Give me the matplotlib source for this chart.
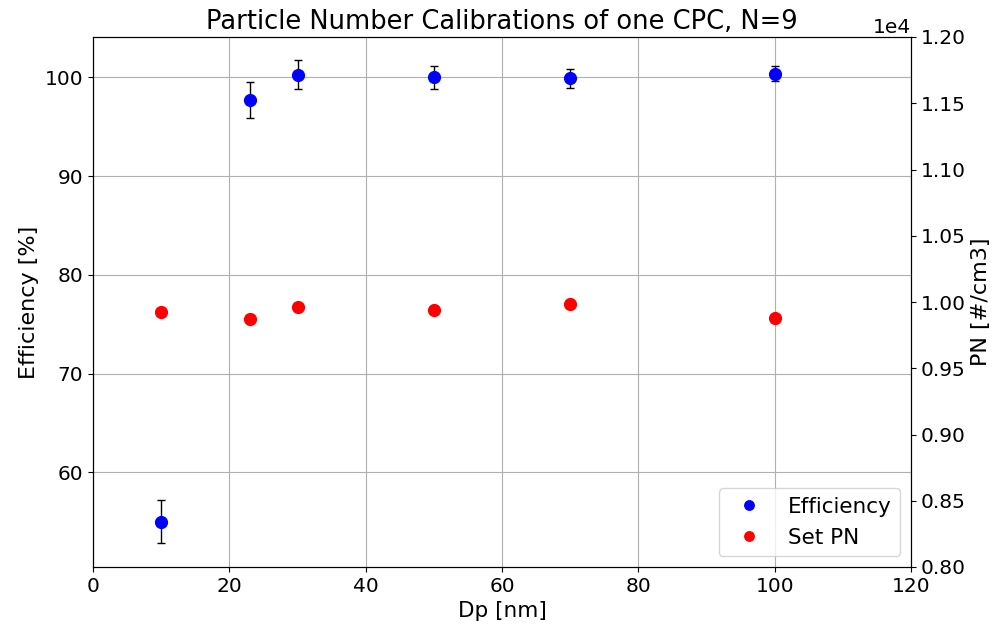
"""Calibrazione numero particelle di un CPC: efficienza e PN impostato."""

import matplotlib
matplotlib.use("Agg")
import matplotlib.pyplot as plt

# Dati
dp = [10, 23, 30, 50, 70, 100]
efficiency = [55.0, 97.7, 100.3, 100.0, 99.9, 100.4]
efficiency_err = [2.15, 1.85, 1.45, 1.15, 0.95, 0.8]
set_pn = [9922, 9873, 9962, 9937, 9987, 9880]

plt.rcParams["font.size"] = 14.5

fig, ax1 = plt.subplots(figsize=(9.96, 6.25), dpi=100)
fig.subplots_adjust(left=0.0934, right=0.9147, top=0.9408, bottom=0.0928)

# Efficienza con barre d'errore
ax1.errorbar(dp, efficiency, yerr=efficiency_err, fmt="o", color="blue",
             ecolor="black", elinewidth=1, capsize=3, markersize=8.5,
             label="Efficiency")
ax1.set_xlim(0, 120)
ax1.set_ylim(50.4, 104.1)
ax1.set_xlabel("Dp [nm]", fontsize=15.5)
ax1.set_ylabel("Efficiency [%]", fontsize=16)
ax1.grid(True)
ax1.set_title("Particle Number Calibrations of one CPC, N=9", fontsize=18.5)

# PN impostato sull'asse destro
ax2 = ax1.twinx()
ax2.plot(dp, set_pn, "o", color="red", markersize=8.5, label="Set PN")
ax2.set_ylim(8000, 12000)
ax2.ticklabel_format(axis="y", style="sci", scilimits=(0, 0))
ax2.set_ylabel("PN [#/cm3]", fontsize=16)

h1, l1 = ax1.get_legend_handles_labels()
h2, l2 = ax2.get_legend_handles_labels()
ax2.legend([h1[0].lines[0], h2[0]], l1 + l2, loc="lower right",
           fontsize=15.5, markerscale=0.8)

plt.savefig("out.png", dpi=100)
plt.close()
